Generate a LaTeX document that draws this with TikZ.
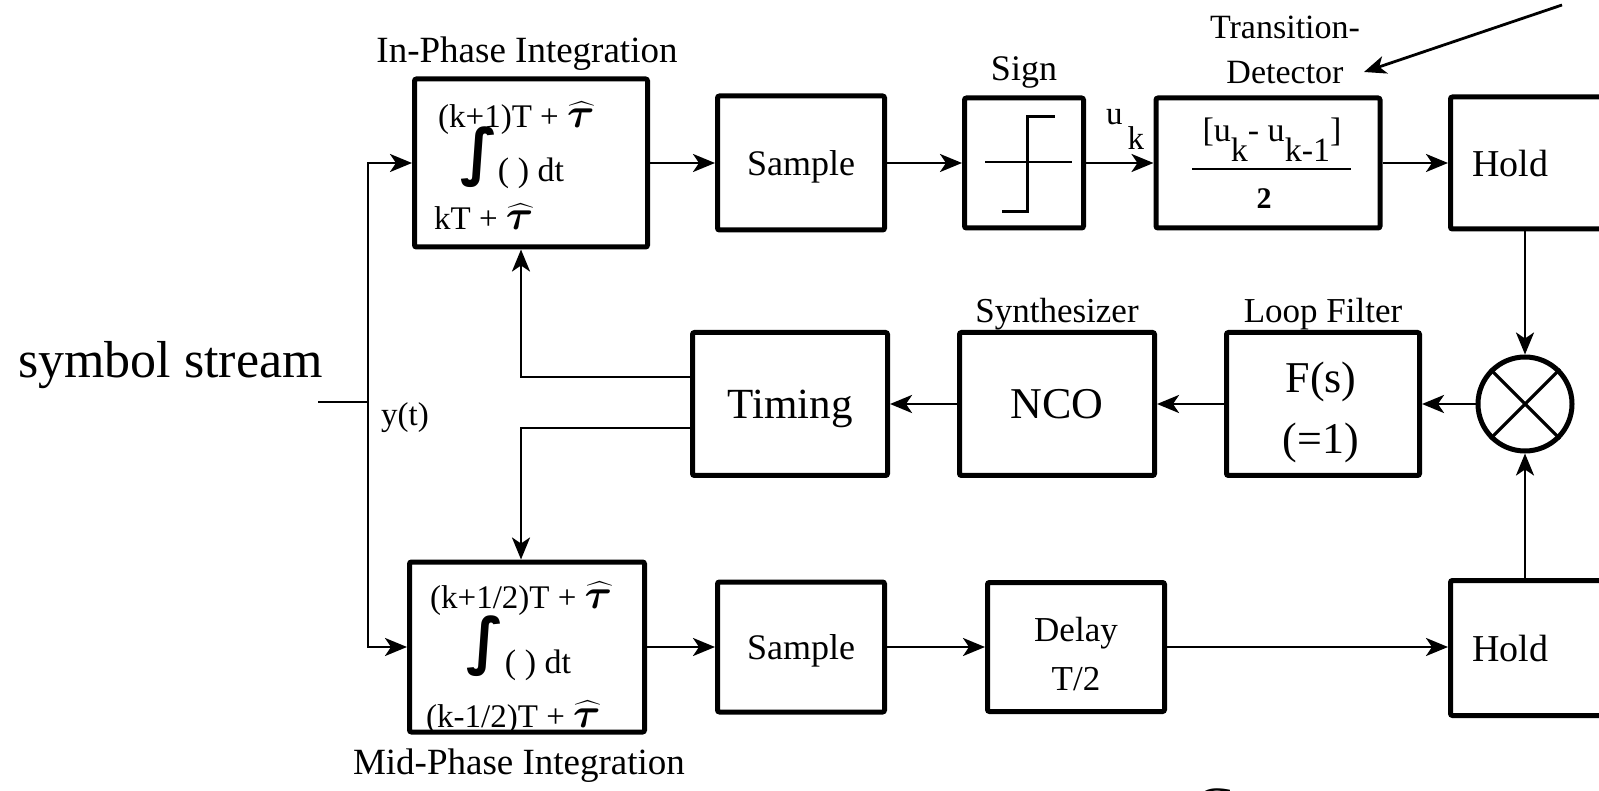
\RequirePackage{fix-cm}
\documentclass[tikz,border=0pt]{standalone}
\usepackage{fontspec}
\usepackage{amsmath}
\usepackage{bm}
\setmainfont{Liberation Serif}
\newfontfamily\intfont{DejaVu Sans}
\usetikzlibrary{arrows.meta,positioning,calc}

\newcommand{\fs}[1]{\fontsize{#1}{#1}\selectfont}
\newcommand{\tauhat}{{\fs{42}$\bm{\widehat{\tau}}$}}
\newcommand{\intsym}{{\intfont\bfseries\fontsize{62}{62}\selectfont ∫}}

\begin{document}
\begin{tikzpicture}[
    x=1pt, y=-1pt,
    block/.style={draw, line width=5pt, rounded corners=2pt, inner sep=0pt, align=center, text depth=0pt, font=\fs{36}},
    lbl/.style={inner sep=0pt, font=\fs{36}},
    arrow/.style={-{Stealth[length=22pt,width=18pt,inset=6pt]}, line width=2.8pt},
    wire/.style={line width=2.8pt}
]
    \useasboundingbox (0,0) rectangle (1599,791);

    % input
    \node [lbl, font=\fs{52}, anchor=base east] (ss) at (323,378) {symbol stream};
    \coordinate (ssend) at (318,402);
    \coordinate (yin) at (368,402);
    \node [lbl, font=\fs{33}] (ylbl) at (405,418) {y(t)};

    % top row
    \node [block, minimum width=233pt, minimum height=168pt] (inph) at (531,163) {};
    \node [lbl, font=\fs{33}, anchor=base west] (ipup) at (438,128) {(k+1)T + \tauhat};
    \node [lbl] (ipint) at (479,157) {\intsym};
    \node [lbl, font=\fs{34}] (ipdt) at (531,173) {( ) dt};
    \node [lbl, font=\fs{33}, anchor=base west] (iplo) at (434,230) {kT + \tauhat};
    \node [lbl, font=\fs{37}] (iplbl) at (527,54) {In-Phase Integration};

    \node [block, minimum width=167pt, minimum height=134pt] (samp1) at (801,163) {Sample};
    \node [block, minimum width=119pt, minimum height=130pt] (sign) at (1024,163) {};
    \node [lbl] (signlbl) at (1024,72) {Sign};
    \draw [line width=1.5pt] (985,162) -- (1072,162);
    \draw [line width=3pt] (1002,212) -- (1027,212) -- (1027,117) -- (1055,117);
    \node [lbl, font=\fs{33}, anchor=base west] (uk) at (1106,125) {u\hspace{5pt}\raisebox{-25pt}{k}};

    \node [block, minimum width=224pt, minimum height=130pt] (td) at (1268,163) {};
    \node [lbl, font=\fs{34}] (tdnum) at (1272,140) {[u\raisebox{-0.6em}{k}- u\raisebox{-0.6em}{k-1}]};
    \draw [line width=1.5pt] (1192,169) -- (1351,169);
    \node [lbl, font=\fs{30}] (tdden) at (1264,199) {\textbf{2}};
    \node [lbl, font=\fs{34}] (tdlbl1) at (1285,27) {Transition-};
    \node [lbl, font=\fs{34}] (tdlbl2) at (1285,73) {Detector};
    \coordinate (ptrtail) at (1562,5);
    \coordinate (ptrtip) at (1364,72);

    \node [block, anchor=west, minimum width=200pt, minimum height=132pt, text width=156pt, align=left, font=\fs{38}] (hold1) at (1448,163) {Hold};

    % middle row
    \node [block, minimum width=195pt, minimum height=143pt, font=\fs{43}] (timing) at (790,404) {Timing};
    \node [block, minimum width=195pt, minimum height=143pt, font=\fs{44}] (nco) at (1057,404) {NCO};
    \node [lbl, font=\fs{35}] (ncolbl) at (1057,314) {Synthesizer};
    \node [block, minimum width=193pt, minimum height=143pt] (lf) at (1323,404) {};
    \node [lbl, font={\fontsize{44}{61}\selectfont}, align=center] (lftxt) at (1321,412) {F(s)\\(=1)};
    \node [lbl, font=\fs{35}] (lflbl) at (1323,314) {Loop Filter};
    \node [draw, circle, line width=5pt, minimum size=94pt, inner sep=0pt] (mix) at (1525,404) {};
    \draw [line width=3.2pt] (mix.north west) -- (mix.south east);
    \draw [line width=3.2pt] (mix.south west) -- (mix.north east);
    \coordinate (tup) at (521,377);
    \coordinate (tdn) at (521,428);

    % bottom row
    \node [block, minimum width=235pt, minimum height=170pt] (midph) at (527,647) {};
    \node [lbl, font=\fs{33}, anchor=base west] (mpup) at (430,608) {(k+1/2)T + \tauhat};
    \node [lbl] (mpint) at (485,646) {\intsym};
    \node [lbl, font=\fs{34}] (mpdt) at (538,665) {( ) dt};
    \node [lbl, font=\fs{33}, anchor=base west] (mplo) at (426,727) {(k-1/2)T + \tauhat};
    \node [lbl, font=\fs{37}] (mplbl) at (519,766) {Mid-Phase Integration};

    \node [block, minimum width=167pt, minimum height=130pt] (samp2) at (801,647) {Sample};
    \node [block, minimum width=177pt, minimum height=129pt] (delay) at (1076,647) {};
    \node [lbl, font={\fontsize{35}{49}\selectfont}, align=center] (delaytxt) at (1076,654) {Delay\\T/2};
    \node [block, anchor=west, minimum width=200pt, minimum height=135pt, text width=156pt, align=left, font=\fs{38}] (hold2) at (1448,648) {Hold};
    \node [lbl, font=\fs{60}, anchor=base] (cfrag) at (1214,828) {C};

    % connectors
    \draw [wire] (ssend) -- (yin);
    \draw [arrow] (yin) |- (inph.west);
    \draw [arrow] (yin) |- (midph.west);
    \draw [arrow] (inph.east) -- (samp1.west);
    \draw [arrow] (samp1.east) -- (sign.west);
    \draw [arrow] (sign.east) -- (td.west);
    \draw [arrow] (td.east) -- (hold1.west);
    \draw [arrow] (ptrtail) -- (ptrtip);
    \draw [arrow] (mix |- hold1.south) -- (mix.north);
    \draw [arrow] (mix |- hold2.north) -- (mix.south);
    \draw [arrow] (mix.west) -- (lf.east);
    \draw [arrow] (lf.west) -- (nco.east);
    \draw [arrow] (nco.west) -- (timing.east);
    \draw [arrow] (timing.west |- tup) -- (tup) -- (tup |- inph.south);
    \draw [arrow] (timing.west |- tdn) -- (tdn) -- (tdn |- midph.north);
    \draw [arrow] (midph.east) -- (samp2.west);
    \draw [arrow] (samp2.east) -- (delay.west);
    \draw [arrow] (delay.east) -- (hold2.west |- delay.east);

\end{tikzpicture}
\end{document}
